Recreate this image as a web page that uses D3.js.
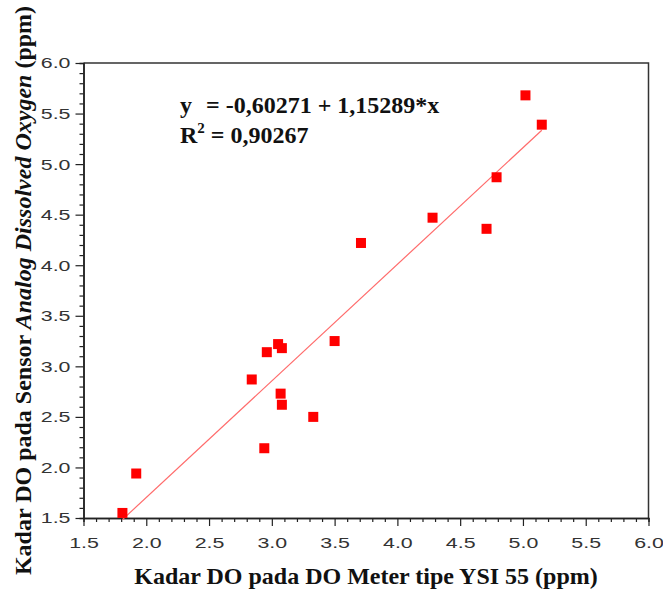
<!DOCTYPE html>
<html>
<head>
<meta charset="utf-8">
<script src="https://cdn.jsdelivr.net/npm/d3@7"></script>
<style>
  body { margin: 0; background: #fff; }
  .tick text { font-family: "Liberation Sans", Arial, sans-serif; font-size: 15.5px; fill: #333; }
  .axis-title, .eq { font-family: "Liberation Serif", "Times New Roman", serif; font-weight: bold; fill: #111; }
</style>
</head>
<body>
<script>
var doMeter = [1.81, 1.92, 2.84, 2.94, 2.96, 3.05, 3.08, 3.07, 3.08, 3.33, 3.50, 3.71, 4.28, 4.71, 4.79, 5.02, 5.15];
var doSensor = [1.55, 1.94, 2.87, 2.19, 3.14, 3.22, 3.18, 2.73, 2.62, 2.50, 3.25, 4.22, 4.47, 4.36, 4.87, 5.68, 5.39];
var fitIntercept = -0.60271;
var fitSlope = 1.15289;
var majorTicks = [1.5, 2.0, 2.5, 3.0, 3.5, 4.0, 4.5, 5.0, 5.5, 6.0];

const w = 663;
const h = 592;
const margin = { top: 63, right: 14.5, bottom: 74, left: 83.5 };
const sx = 1.38; // tick labels in the figure are drawn wide

var svg = d3.select("body").append("svg")
  .attr("width", w)
  .attr("height", h);

var x = d3.scaleLinear().domain([1.5, 6.0]).range([margin.left, w - margin.right]);
var y = d3.scaleLinear().domain([1.5, 6.0]).range([h - margin.bottom, margin.top]);

// minor ticks every 0.1
var minorTicks = d3.range(15, 61).map(function (d) { return d / 10; })
  .filter(function (d) { return Math.round(d * 10) % 5 !== 0; });

// frame (top and right)
svg.append("path")
  .attr("d", "M" + x(1.5) + "," + y(6) + "H" + x(6) + "V" + y(1.5))
  .attr("fill", "none")
  .attr("stroke", "#333")
  .attr("stroke-width", 1.5);

// x axis
var gx = svg.append("g").attr("transform", "translate(0," + y(1.5) + ")");
gx.call(d3.axisBottom(x).tickValues(minorTicks).tickSize(4).tickFormat(""));
var gxMajor = svg.append("g").attr("transform", "translate(0," + y(1.5) + ")")
  .call(d3.axisBottom(x).tickValues(majorTicks).tickSize(8).tickSizeOuter(0).tickPadding(11)
    .tickFormat(d3.format(".1f")));
gxMajor.selectAll(".tick text").attr("transform", "scale(" + sx + ",1)");

// y axis
var gy = svg.append("g").attr("transform", "translate(" + x(1.5) + ",0)");
gy.call(d3.axisLeft(y).tickValues(minorTicks).tickSize(4).tickFormat(""));
var gyMajor = svg.append("g").attr("transform", "translate(" + x(1.5) + ",0)")
  .call(d3.axisLeft(y).tickValues(majorTicks).tickSize(8).tickSizeOuter(0).tickPadding(5)
    .tickFormat(d3.format(".1f")));
gyMajor.selectAll(".tick text")
  .attr("x", -13 / sx)
  .attr("transform", "scale(" + sx + ",1)");

svg.selectAll(".domain").attr("stroke", "#222").attr("stroke-width", 1.5);
svg.selectAll(".tick line").attr("stroke", "#222").attr("stroke-width", 1.2);

// fit line over the data range
var xr = d3.extent(doMeter);
svg.append("line")
  .attr("x1", x(xr[0]))
  .attr("y1", y(fitIntercept + fitSlope * xr[0]))
  .attr("x2", x(xr[1]))
  .attr("y2", y(fitIntercept + fitSlope * xr[1]))
  .attr("stroke", "#ff6b6b")
  .attr("stroke-width", 1.2);

// points
var sq = 10;
svg.append("g").selectAll("rect")
  .data(doMeter)
  .enter()
  .append("rect")
  .attr("x", function (d) { return x(d) - sq / 2; })
  .attr("y", function (d, i) { return y(doSensor[i]) - sq / 2; })
  .attr("width", sq)
  .attr("height", sq)
  .attr("fill", "#ff0000");

// equation
var eq = svg.append("text").attr("class", "eq").attr("font-size", 24)
  .attr("x", 180).attr("y", 113);
eq.append("tspan").text("y");
eq.append("tspan").attr("dx", 14).text("= -0,60271 + 1,15289*x");

var r2 = svg.append("text").attr("class", "eq").attr("font-size", 24)
  .attr("x", 180).attr("y", 143);
r2.append("tspan").text("R");
r2.append("tspan").attr("font-size", 15).attr("dy", -10).text("2");
r2.append("tspan").attr("dy", 10).text(" = 0,90267");

// axis titles
svg.append("text").attr("class", "axis-title")
  .attr("font-size", 24)
  .attr("text-anchor", "middle")
  .attr("x", (x(1.5) + x(6)) / 2)
  .attr("y", 584)
  .text("Kadar DO pada DO Meter tipe YSI 55 (ppm)");

var yt = svg.append("text").attr("class", "axis-title")
  .attr("font-size", 24)
  .attr("text-anchor", "middle")
  .attr("transform", "translate(31," + ((y(1.5) + y(6)) / 2) + ") rotate(-90)");
yt.append("tspan").text("Kadar DO pada Sensor ");
yt.append("tspan").attr("font-style", "italic").text("Analog Dissolved Oxygen");
yt.append("tspan").text(" (ppm)");
</script>
</body>
</html>
